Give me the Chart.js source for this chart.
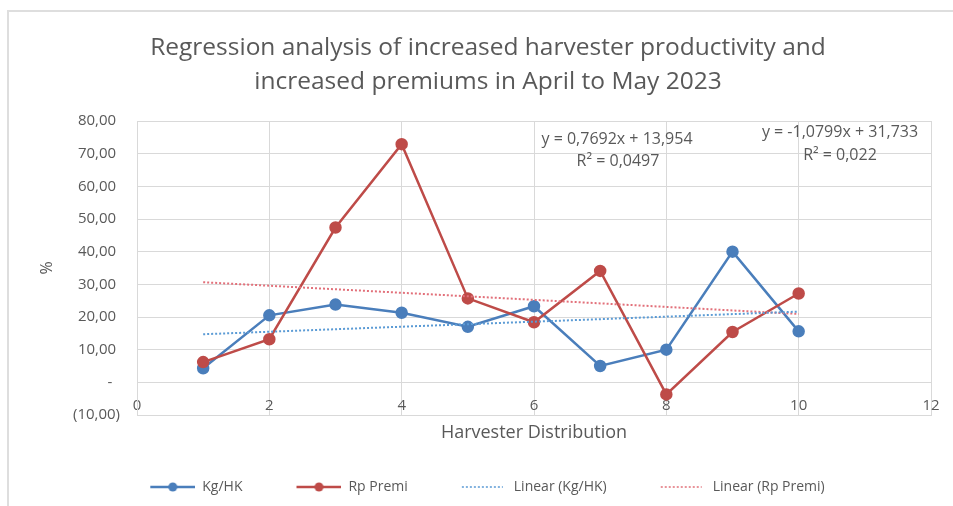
<!DOCTYPE html>
<html>
<head>
<meta charset="utf-8">
<script src="https://cdn.jsdelivr.net/npm/chart.js@4.4.0/dist/chart.umd.min.js"></script>
<style>
  html, body { margin: 0; padding: 0; background: #fff; overflow: hidden; }
  #wrap { position: relative; width: 953px; height: 506px; }
  #frame { position: absolute; left: 7px; top: 10px; width: 1000px; height: 600px; border: 2px solid #dedede; box-sizing: border-box; }
  canvas { position: absolute; left: 0; top: 0; }
</style>
</head>
<body>
<div id="wrap">
  <div id="frame"></div>
  <canvas id="chart" width="953" height="506"></canvas>
</div>
<script>
// data
const chartTitle = ["Regression analysis of increased harvester productivity and", "increased premiums in April to May 2023"];
const distribution = [1, 2, 3, 4, 5, 6, 7, 8, 9, 10];
const kgHK = [4.3, 20.5, 23.8, 21.3, 17.0, 23.3, 5.0, 10.0, 40.0, 15.6];
const rpPremi = [6.2, 13.2, 47.4, 72.9, 25.7, 18.4, 34.1, -3.7, 15.4, 27.2];
const trendX = [1, 10];
const trendKgHK = [14.72, 21.65];
const trendRpPremi = [30.65, 20.93];
const trendText = [["y = 0,7692x + 13,954", "R\u00B2 = 0,0497"], ["y = -1,0799x + 31,733", "R\u00B2 = 0,022"]];
const seriesNames = ["Kg/HK", "Rp Premi", "Linear (Kg/HK)", "Linear (Rp Premi)"];

const blue = "#4a7ebb";
const red = "#be4b48";
const trendBlue = "#5b9bd5";
const trendRed = "#e2707a";
const textGrey = "#595959";
const gridGrey = "#d9d9d9";
const family = "'Open Sans', sans-serif";

Chart.defaults.font.family = family;

function toPoints(xs, ys) {
  return xs.map((x, i) => ({ x: x, y: ys[i] }));
}

function yLabel(v) {
  if (v === 0) return "-  ";
  const s = Math.abs(v).toFixed(2).replace(".", ",");
  return v < 0 ? "(" + s + ")" : s + " ";
}

// little legend swatches: line (+marker) drawn in the right part, left part left empty for spacing
function swatch(color, dotted, marker) {
  const c = document.createElement("canvas");
  c.width = 89;
  c.height = 14;
  const g = c.getContext("2d");
  g.strokeStyle = color;
  g.lineWidth = dotted ? 1.5 : 2.5;
  if (dotted) g.setLineDash([2, 2]);
  g.beginPath();
  g.moveTo(44, 7);
  g.lineTo(dotted ? 85 : 89, 7);
  g.stroke();
  if (marker) {
    g.fillStyle = color;
    g.beginPath();
    g.arc(66.5, 7, 4.5, 0, Math.PI * 2);
    g.fill();
  }
  return c;
}

const swatches = [swatch(blue, false, true), swatch(red, false, true), swatch(trendBlue, true, false), swatch(trendRed, true, false)];

const textPlugin = {
  id: "texts",
  afterDraw(chart) {
    const g = chart.ctx;
    g.save();
    g.fillStyle = textGrey;
    g.textAlign = "center";
    g.textBaseline = "middle";
    g.font = "24.5px " + family;
    g.fillText(chartTitle[0], 488, 48);
    g.fillText(chartTitle[1], 488, 82);
    g.font = "16px " + family;
    g.fillText(trendText[0][0], 617, 139);
    g.fillText(trendText[0][1], 618, 161);
    g.fillText(trendText[1][0], 840, 132);
    g.fillText(trendText[1][1], 840, 155);
    g.restore();
  }
};

new Chart(document.getElementById("chart"), {
  type: "scatter",
  data: {
    datasets: [
      {
        label: seriesNames[0],
        data: toPoints(distribution, kgHK),
        showLine: true,
        borderColor: blue,
        backgroundColor: blue,
        borderWidth: 2.5,
        pointRadius: 5,
        pointHoverRadius: 5,
        order: 2
      },
      {
        label: seriesNames[1],
        data: toPoints(distribution, rpPremi),
        showLine: true,
        borderColor: red,
        backgroundColor: red,
        borderWidth: 2.5,
        pointRadius: 5,
        pointHoverRadius: 5,
        order: 1
      },
      {
        label: seriesNames[2],
        data: toPoints(trendX, trendKgHK),
        showLine: true,
        borderColor: trendBlue,
        borderDash: [2, 2],
        borderWidth: 2,
        pointRadius: 0,
        order: 0
      },
      {
        label: seriesNames[3],
        data: toPoints(trendX, trendRpPremi),
        showLine: true,
        borderColor: trendRed,
        borderDash: [2, 2],
        borderWidth: 2,
        pointRadius: 0,
        order: 0
      }
    ]
  },
  options: {
    responsive: false,
    animation: false,
    devicePixelRatio: 1,
    layout: { padding: { top: 121, left: 0, right: 22, bottom: 2 } },
    plugins: {
      title: { display: false },
      tooltip: { enabled: false },
      legend: {
        position: "bottom",
        labels: {
          usePointStyle: true,
          pointStyleWidth: 89,
          padding: 10,
          color: textGrey,
          font: { size: 14 },
          generateLabels: (chart) => seriesNames.map((name, i) => ({
            text: name,
            pointStyle: swatches[i],
            fillStyle: "transparent",
            strokeStyle: "transparent",
            lineWidth: 0,
            fontColor: textGrey,
            hidden: false,
            datasetIndex: i
          }))
        }
      }
    },
    scales: {
      x: {
        type: "linear",
        position: "bottom",
        min: 0,
        max: 12,
        ticks: { stepSize: 2, mirror: true, padding: 0, color: textGrey, font: { size: 15 } },
        grid: { color: gridGrey, drawTicks: false },
        border: { color: gridGrey },
        title: {
          display: true,
          text: "Harvester Distribution",
          color: textGrey,
          font: { size: 18 },
          padding: { top: 0, bottom: 26 }
        },
        afterFit: (s) => { s.height = 55; }
      },
      y: {
        min: -10,
        max: 80,
        ticks: { stepSize: 10, padding: 17, color: textGrey, font: { size: 15 }, callback: yLabel },
        grid: { color: gridGrey, drawTicks: false },
        border: { color: gridGrey },
        title: {
          display: true,
          text: "%",
          color: textGrey,
          font: { size: 16 },
          padding: { top: 38, bottom: 0 }
        },
        afterFit: (s) => { s.width = 137; }
      }
    }
  },
  plugins: [textPlugin]
});
</script>
</body>
</html>
